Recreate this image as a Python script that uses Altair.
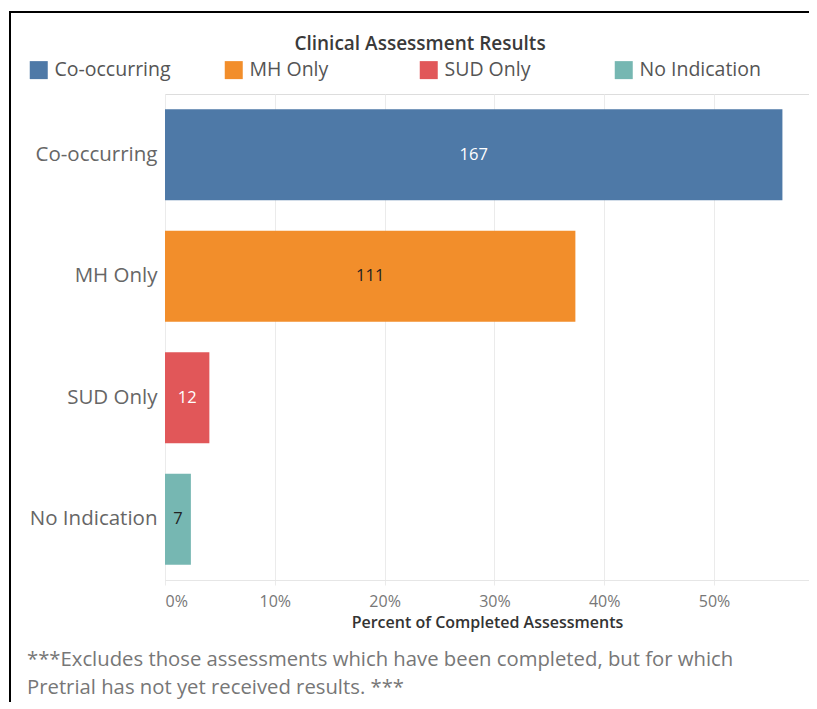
import altair as alt
import pandas as pd

categories = ["Co-occurring", "MH Only", "SUD Only", "No Indication"]
counts = [167, 111, 12, 7]
colors = ["#4e79a7", "#f28e2b", "#e15759", "#76b7b2"]
tick_values = [0.0, 0.1, 0.2, 0.3, 0.4, 0.5]
title_text = "Clinical Assessment Results"
x_title = "Percent of Completed Assessments"
footnote = ("***Excludes those assessments which have been completed, but for which\n"
            "Pretrial has not yet received  results. ***")

df = pd.DataFrame({"category": categories, "count": counts})
FONT = "Open Sans"

base = alt.Chart(df).transform_joinaggregate(
    total="sum(count)"
).transform_calculate(
    pct="datum.count / datum.total"
)

y_enc = alt.Y(
    "category:N",
    sort=categories,
    title=None,
    scale=alt.Scale(paddingInner=0.25, paddingOuter=0.125),
    axis=alt.Axis(
        domain=False, ticks=False, grid=False,
        labelFont=FONT, labelFontSize=20.5, labelColor="#666666",
        labelPadding=8, labelLimit=300,
    ),
)

x_enc = alt.X(
    "pct:Q",
    title=x_title,
    scale=alt.Scale(domain=[0, 0.5865], nice=False),
    axis=alt.Axis(
        values=tick_values, format=".0%",
        grid=True, gridColor="#ebebeb", gridWidth=1,
        domain=True, domainColor="#e6e6e6",
        ticks=True, tickColor="#ebebeb", tickSize=5,
        labelFont=FONT, labelFontSize=16, labelColor="#777777",
        labelPadding=8, labelFlush=True,
        titleFont=FONT, titleFontSize=16, titleFontWeight=600,
        titleColor="#333333", titlePadding=5,
    ),
)

bars = base.mark_bar().encode(
    x=x_enc,
    y=y_enc,
    color=alt.Color(
        "category:N",
        sort=categories,
        scale=alt.Scale(domain=categories, range=colors),
        legend=alt.Legend(
            title=None, orient="none", legendX=-136, legendY=-34,
            direction="horizontal", columns=4, gridAlign="all",
            columnPadding=48, symbolType="square", symbolSize=324,
            symbolStrokeWidth=0, labelFont=FONT, labelFontSize=19.5,
            labelColor="#555555", labelOffset=6, labelLimit=300,
        ),
    ),
)

labels = base.mark_text(font=FONT, fontSize=16.5, align="center", baseline="middle").encode(
    x=alt.X("mid:Q"),
    y=alt.Y("category:N", sort=categories),
    text=alt.Text("count:Q"),
    color=alt.condition(
        alt.FieldOneOfPredicate(field="category", oneOf=["Co-occurring", "SUD Only"]),
        alt.value("white"),
        alt.value("#222222"),
    ),
).transform_calculate(mid="datum.pct / 2")

title = alt.Chart(pd.DataFrame({"t": [title_text]})).mark_text(
    font=FONT, fontSize=19, fontWeight=600, color="#3a3a3a",
    align="center", baseline="middle",
).encode(x=alt.value(255), y=alt.value(-50), text="t:N")

note = alt.Chart(pd.DataFrame({"note": [footnote]})).mark_text(
    font=FONT, fontSize=20.3, color="#777777", align="left", baseline="middle",
    lineBreak="\n", lineHeight=28,
).encode(
    x=alt.value(-138), y=alt.value(566), text="note:N"
)

left_border = alt.Chart(pd.DataFrame({"a": [0]})).mark_rule(color="black", strokeWidth=2).encode(
    x=alt.value(-155), y=alt.value(-83), y2=alt.value(640)
)
top_border = alt.Chart(pd.DataFrame({"a": [0]})).mark_rule(color="black", strokeWidth=2).encode(
    x=alt.value(-156), x2=alt.value(700), y=alt.value(-82)
)

chart = alt.layer(bars, labels, title, note, left_border, top_border).properties(
    width=644,
    height=486,
    autosize=alt.AutoSizeParams(type="none"),
    padding={"left": 157, "top": 86, "right": 0, "bottom": 122},
).configure_view(stroke=None).configure(background="white")

chart.save("out.html", embed_options={"renderer": "svg", "actions": False})
